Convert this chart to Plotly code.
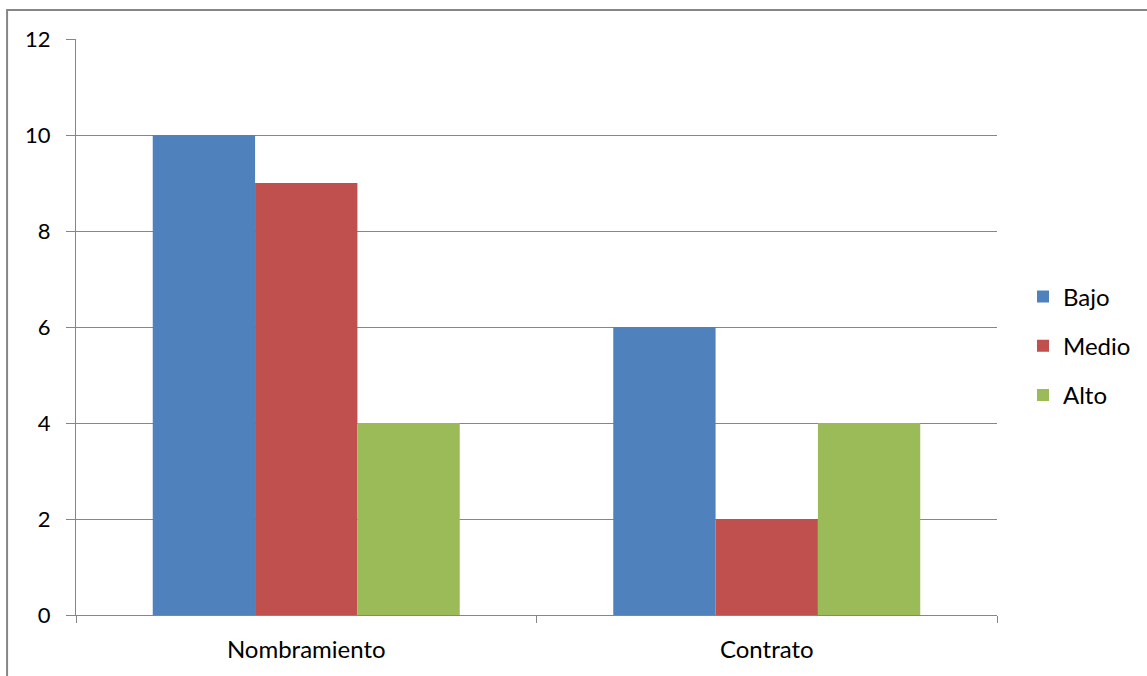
import plotly.graph_objects as go

categories = ["Nombramiento", "Contrato"]
series_names = ["Bajo", "Medio", "Alto"]
bajo = [10, 6]
medio = [9, 2]
alto = [4, 4]
y_ticks = [0, 2, 4, 6, 8, 10, 12]

colors = ["#4F81BD", "#C0504D", "#9BBB59"]
values = [bajo, medio, alto]

FONT = "Lato"
GRID = "#868686"

fig = go.Figure()
for name, vals, col in zip(series_names, values, colors):
    fig.add_trace(go.Bar(
        x=categories, y=vals, name=name, marker_color=col,
        marker_line_width=0, legendgroup=name,
    ))

W, H = 1147, 676
ml, mr, mt, mb = 76, 149, 39, 61
pw, ph = W - ml - mr, H - mt - mb

fig.update_layout(
    width=W, height=H,
    margin=dict(l=ml, r=mr, t=mt, b=mb),
    paper_bgcolor="white", plot_bgcolor="white",
    barmode="group", bargap=1.5 / 4.5, bargroupgap=0,
    font=dict(family=FONT, size=24, color="#000000"),
    legend=dict(
        x=(1023 - ml) / pw, y=(mt + ph - 346) / ph,
        xanchor="left", yanchor="middle",
        font=dict(family=FONT, size=24), tracegroupgap=15,
        itemwidth=30, bgcolor="rgba(0,0,0,0)",
    ),
    xaxis=dict(
        type="category", showgrid=False, showline=True, linecolor=GRID,
        linewidth=1, ticks="outside", tickson="boundaries", ticklen=7,
        tickcolor=GRID, tickwidth=1, ticklabelstandoff=13,
        tickfont=dict(family=FONT, size=24),
    ),
    yaxis=dict(
        range=[0, 12], tickvals=y_ticks, showgrid=True, gridcolor=GRID,
        gridwidth=1, showline=True, linecolor=GRID, linewidth=1,
        ticks="outside", ticklen=9, tickcolor=GRID, tickwidth=1,
        ticklabelstandoff=11, zeroline=False,
        tickfont=dict(family=FONT, size=22),
    ),
    shapes=[dict(
        type="rect", xref="paper", yref="paper",
        x0=(7 - ml) / pw, x1=(W + 20 - ml) / pw,
        y0=-(H + 20 - mt - ph) / ph, y1=(mt + ph - 10) / ph,
        line=dict(color=GRID, width=2), fillcolor="rgba(0,0,0,0)",
        layer="above",
    )],
)

fig.write_html("out.html")
